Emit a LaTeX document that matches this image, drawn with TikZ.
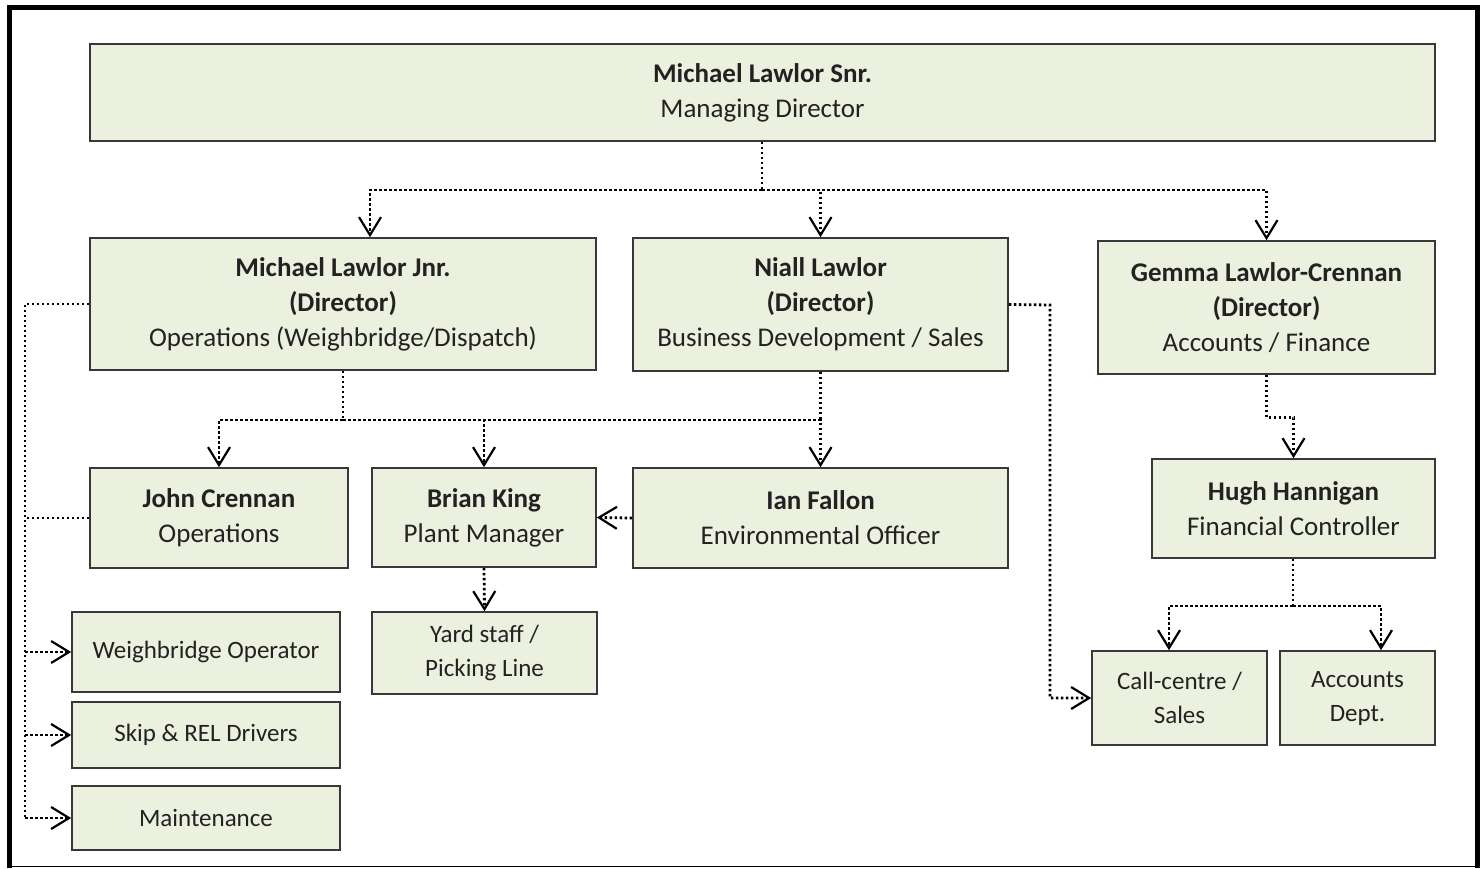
\documentclass[tikz,border=0pt]{standalone}
\usepackage{fontspec}
\setmainfont{Carlito}
\usetikzlibrary{arrows.meta,positioning,calc}
\definecolor{boxgreen}{HTML}{EBF1DE}
\definecolor{boxline}{HTML}{383838}
\definecolor{txtgrey}{HTML}{222222}

\tikzset{
    orgbox/.style 2 args={draw=boxline, line width=0.8pt, fill=boxgreen, rectangle, align=center,
        text=txtgrey, minimum width=#1*0.5pt, minimum height=#2*0.5pt,
        font=\fontsize{13.5}{17.5}\selectfont, inner sep=0pt},
    smallbox/.style 2 args={orgbox={#1}{#2}, font=\fontsize{12.5}{17}\selectfont},
    link/.style={line width=1.4pt, dash pattern=on 1.3pt off 1.2pt},
    flow/.style={link, -{Straight Barb[length=9pt, width=11pt, line width=1.1pt]}}
}

\begin{document}
\begin{tikzpicture}[x=0.5pt, y=-0.5pt]
    \useasboundingbox (0,0) rectangle (1482,868);
    \draw[line width=2.5pt] (9.5,868) -- (9.5,7.5) -- (1477,7.5) -- (1477,868);
    \draw[line width=0.6pt] (9.5,866.5) -- (1477,866.5);

    \node[orgbox={1345}{97}] (snr) at (762.5,92.5) {\textbf{Michael Lawlor Snr.}\\Managing Director};
    \node[orgbox={506}{132}] (jnr) at (343,304) {\textbf{Michael Lawlor Jnr.}\\\textbf{(Director)}\\Operations (Weighbridge/Dispatch)};
    \node[orgbox={375}{133}] (niall) at (820.5,304.5) {\textbf{Niall Lawlor}\\\textbf{(Director)}\\Business Development / Sales};
    \node[orgbox={337}{133}] (gemma) at (1266.5,307.5) {\textbf{Gemma Lawlor-Crennan}\\\textbf{(Director)}\\Accounts / Finance};

    \node[orgbox={258}{100}] (john) at (219,518) {\textbf{John Crennan}\\Operations};
    \node[orgbox={224}{99}] (brian) at (484,517.5) {\textbf{Brian King}\\Plant Manager};
    \node[orgbox={375}{100}] (ian) at (820.5,518) {\textbf{Ian Fallon}\\Environmental Officer};
    \node[orgbox={283}{99}] (hugh) at (1293.5,508.5) {\textbf{Hugh Hannigan}\\Financial Controller};

    \node[smallbox={225}{82}] (yard) at (484.5,653) {Yard staff /\\Picking Line};
    \node[smallbox={268}{80}] (weigh) at (206,652) {Weighbridge Operator};
    \node[smallbox={268}{66}] (skip) at (206,735) {Skip \& REL Drivers};
    \node[smallbox={268}{64}] (maint) at (206,818) {Maintenance};
    \node[smallbox={175}{94}] (call) at (1179.5,698) {Call-centre /\\Sales};
    \node[smallbox={155}{94}] (accts) at (1357.5,698) {Accounts\\Dept.};

    \coordinate (topbus) at (762,190);
    \coordinate (midbus) at (343,420);
    \coordinate (finbus) at (1293,606);
    \coordinate (leftbus) at (25,304);
    \coordinate (rightbus) at (1050,305);

    \draw[link] (snr.south -| topbus) -- (topbus);
    \draw[flow] (topbus) -| (370,0 |- jnr.north);
    \draw[flow] (topbus) -| (niall.north);
    \draw[flow] (topbus) -| (gemma.north);

    \draw[link] (jnr.south -| midbus) -- (midbus);
    \draw[flow] (midbus) -| (john.north);
    \draw[flow] (midbus) -| (brian.north);
    \draw[flow] (midbus) -| (ian.north);
    \draw[link] (niall.south) -- (niall.south |- midbus);

    \draw[flow] (ian.west) -- (brian.east);
    \draw[flow] (brian.south) -- (yard.north);

    \draw[flow] (gemma.south) -- ++(0,43) -| (hugh.north);
    \draw[link] (hugh.south -| finbus) -- (finbus);
    \draw[flow] (finbus) -| (1169,0 |- call.north);
    \draw[flow] (finbus) -| (1381,0 |- accts.north);

    \draw[link] (jnr.west) -- (leftbus) -- (leftbus |- maint.west);
    \draw[link] (john.west) -- (leftbus |- john.west);
    \draw[flow] (leftbus |- weigh.west) -- (weigh.west);
    \draw[flow] (leftbus |- skip.west) -- (skip.west);
    \draw[flow] (leftbus |- maint.west) -- (maint.west);

    \draw[flow] (niall.east) -- (rightbus) |- (call.west);
\end{tikzpicture}
\end{document}
